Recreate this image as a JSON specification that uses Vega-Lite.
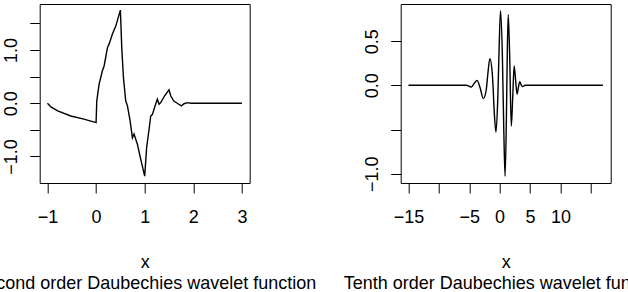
{
  "$schema": "https://vega.github.io/schema/vega-lite/v6.json",
  "background": "white",
  "padding": {"left": -27.3, "top": 3, "right": -41, "bottom": 0},
  "spacing": 151,
  "bounds": "flush",
  "config": {
    "font": "Liberation Sans",
    "view": {"stroke": "black", "strokeWidth": 1},
    "axis": {
      "grid": false,
      "domain": false,
      "tickColor": "black",
      "tickSize": 10,
      "tickWidth": 1,
      "labelColor": "black",
      "labelFont": "Liberation Sans",
      "labelFontSize": 18,
      "titleFont": "Liberation Sans",
      "titleFontSize": 18,
      "titleFontWeight": "normal",
      "titleColor": "black",
      "labelOverlap": false,
      "labelFlush": false
    }
  },
  "datasets": {
    "d2": [
      {"x": -1, "y": 0}, {"x": -0.93, "y": -0.07}, {"x": -0.79, "y": -0.145}, {"x": -0.52, "y": -0.24},
      {"x": -0.25, "y": -0.3}, {"x": 0, "y": -0.365}, {"x": 0.014, "y": 0.04}, {"x": 0.062, "y": 0.36},
      {"x": 0.13, "y": 0.61}, {"x": 0.165, "y": 0.7}, {"x": 0.234, "y": 1.045}, {"x": 0.27, "y": 1.12},
      {"x": 0.336, "y": 1.3}, {"x": 0.405, "y": 1.45}, {"x": 0.5, "y": 1.75}, {"x": 0.528, "y": 1.045},
      {"x": 0.563, "y": 0.48}, {"x": 0.61, "y": 0.04}, {"x": 0.645, "y": -0.05}, {"x": 0.7, "y": -0.33},
      {"x": 0.747, "y": -0.65}, {"x": 0.78, "y": -0.58}, {"x": 0.85, "y": -0.77}, {"x": 0.918, "y": -1.05},
      {"x": 1.0, "y": -1.37}, {"x": 1.04, "y": -0.83}, {"x": 1.09, "y": -0.49}, {"x": 1.124, "y": -0.24},
      {"x": 1.159, "y": -0.21}, {"x": 1.206, "y": -0.07}, {"x": 1.26, "y": 0.075}, {"x": 1.295, "y": -0.02},
      {"x": 1.33, "y": 0.01}, {"x": 1.41, "y": 0.14}, {"x": 1.5, "y": 0.25}, {"x": 1.535, "y": 0.14},
      {"x": 1.6, "y": 0.04}, {"x": 1.685, "y": -0.01}, {"x": 1.755, "y": -0.05}, {"x": 1.81, "y": -0.01},
      {"x": 1.88, "y": 0.01}, {"x": 1.95, "y": 0}, {"x": 3, "y": 0}
    ],
    "d10": [
      {"x": -15, "y": 0}, {"x": -5.5, "y": 0}, {"x": -5.0, "y": -0.01}, {"x": -4.7, "y": -0.02},
      {"x": -4.2, "y": 0.02}, {"x": -3.72, "y": 0.056}, {"x": -3.2, "y": -0.03}, {"x": -2.69, "y": -0.15},
      {"x": -2.2, "y": -0.05}, {"x": -1.95, "y": 0.12}, {"x": -1.6, "y": 0.3}, {"x": -1.15, "y": 0.08},
      {"x": -0.9, "y": -0.28}, {"x": -0.6, "y": -0.53}, {"x": -0.3, "y": -0.15}, {"x": -0.05, "y": 0.5},
      {"x": 0.15, "y": 0.845}, {"x": 0.45, "y": 0.35}, {"x": 0.7, "y": -0.55}, {"x": 0.9, "y": -1.03},
      {"x": 1.12, "y": -0.35}, {"x": 1.27, "y": 0.4}, {"x": 1.42, "y": 0.8}, {"x": 1.65, "y": 0.35},
      {"x": 1.92, "y": -0.46}, {"x": 2.15, "y": -0.15}, {"x": 2.39, "y": 0.22}, {"x": 2.63, "y": 0.06},
      {"x": 2.87, "y": -0.1}, {"x": 3.1, "y": -0.02}, {"x": 3.3, "y": 0.04}, {"x": 3.6, "y": 0.0},
      {"x": 3.8, "y": -0.015}, {"x": 4.2, "y": 0}, {"x": 17, "y": 0}
    ]
  },
  "hconcat": [
    {
      "width": 210,
      "height": 179,
      "data": {"name": "d2"},
      "mark": {"type": "line", "color": "black", "strokeWidth": 1.4, "interpolate": "linear"},
      "encoding": {
        "x": {
          "field": "x", "type": "quantitative",
          "scale": {"domain": [-1.16, 3.16], "nice": false, "zero": false},
          "axis": {
            "values": [-1, 0, 1, 2, 3],
            "labelExpr": "replace(format(datum.value, 'd'), '-', '\u2212')",
            "labelBaseline": "alphabetic",
            "labelPadding": 30,
            "title": ["x", "Second order Daubechies wavelet function"],
            "titleBaseline": "alphabetic",
            "titleLineHeight": 21,
            "titleY": 84.5
          }
        },
        "y": {
          "field": "y", "type": "quantitative",
          "scale": {"domain": [-1.5, 1.865], "nice": false, "zero": false},
          "axis": {
            "values": [-1, -0.5, 0, 0.5, 1, 1.5],
            "labelExpr": "datum.value % 1 == 0 ? replace(format(datum.value, '.1f'), '-', '\u2212') : ''",
            "labelAngle": -90,
            "labelAlign": "center",
            "labelBaseline": "alphabetic",
            "labelPadding": 13,
            "title": null
          }
        }
      }
    },
    {
      "width": 210,
      "height": 179,
      "data": {"name": "d10"},
      "mark": {"type": "line", "color": "black", "strokeWidth": 1.4, "interpolate": "monotone"},
      "encoding": {
        "x": {
          "field": "x", "type": "quantitative",
          "scale": {"domain": [-16.28, 18.28], "nice": false, "zero": false},
          "axis": {
            "values": [-15, -10, -5, 0, 5, 10, 15],
            "labelExpr": "datum.value == -10 || datum.value == 15 ? '' : replace(format(datum.value, 'd'), '-', '\u2212')",
            "labelBaseline": "alphabetic",
            "labelPadding": 30,
            "title": ["x", "Tenth order Daubechies wavelet function"],
            "titleBaseline": "alphabetic",
            "titleLineHeight": 21,
            "titleY": 84.5
          }
        },
        "y": {
          "field": "y", "type": "quantitative",
          "scale": {"domain": [-1.105, 0.92], "nice": false, "zero": false},
          "axis": {
            "values": [-1, -0.5, 0, 0.5],
            "labelExpr": "datum.value == -0.5 ? '' : replace(format(datum.value, '.1f'), '-', '\u2212')",
            "labelAngle": -90,
            "labelAlign": "center",
            "labelBaseline": "alphabetic",
            "labelPadding": 13,
            "title": null
          }
        }
      }
    }
  ]
}
